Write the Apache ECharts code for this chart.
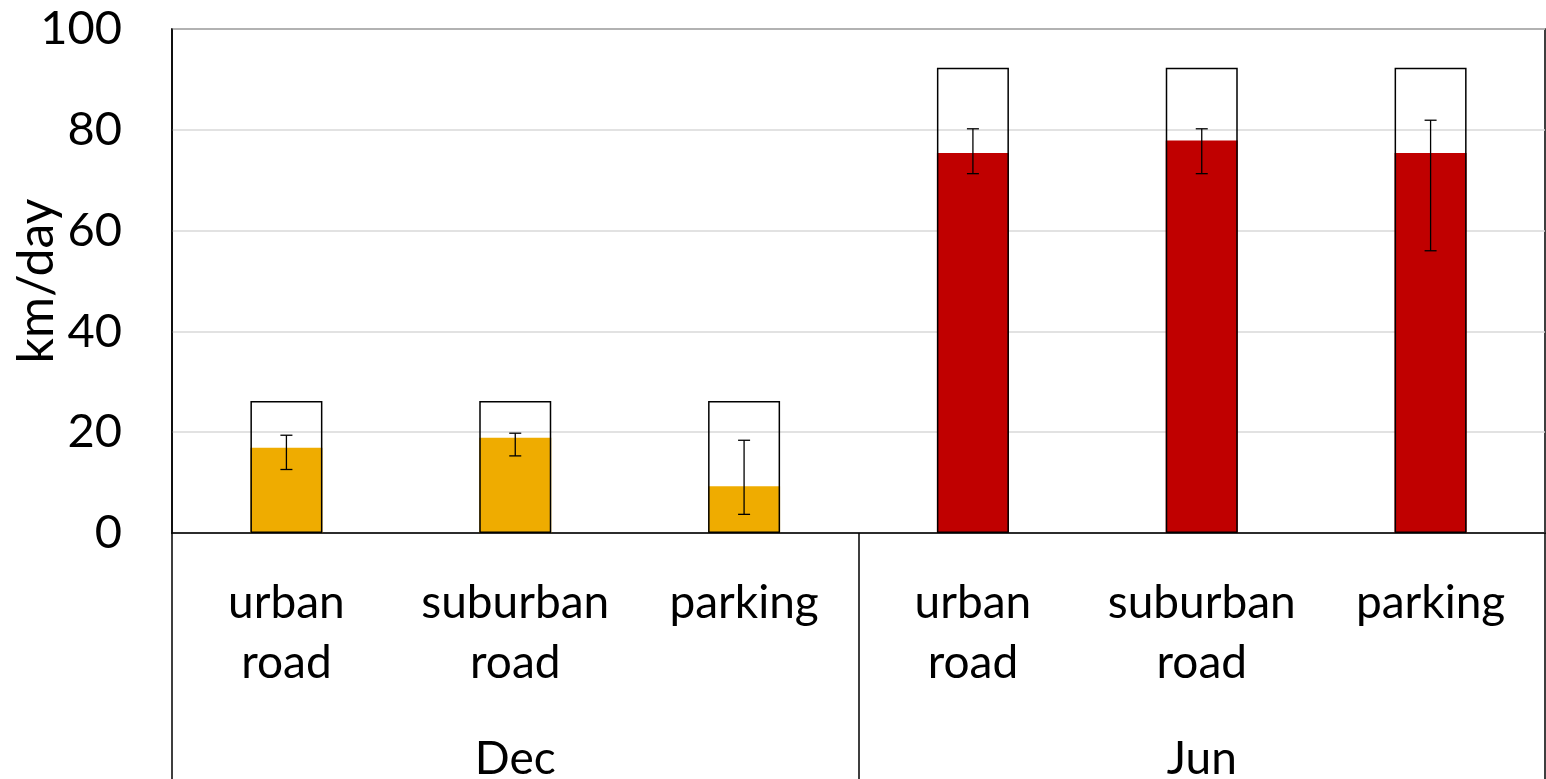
<!DOCTYPE html>
<html>
<head>
<meta charset="utf-8">
<script src="https://cdn.jsdelivr.net/npm/echarts@6/dist/echarts.min.js"></script>
<style>
html, body { margin: 0; padding: 0; background: #fff; }
#mychart { width: 1546px; height: 779px; }
</style>
</head>
<body>
<div id="mychart"></div>
<script>
// data
var categories = ['urban\nroad', 'suburban\nroad', 'parking', 'urban\nroad', 'suburban\nroad', 'parking'];
var groups = ['Dec', 'Jun'];
var totalValues = [26.2, 26.2, 26.2, 92.3, 92.3, 92.3];
var meanValues = [16.9, 18.9, 9.3, 75.4, 77.9, 75.4];
var errLow = [12.6, 15.3, 3.7, 71.3, 71.3, 56.0];
var errHigh = [19.4, 19.8, 18.4, 80.2, 80.2, 81.9];
var yTicks = [0, 20, 40, 60, 80, 100];

var FONT = 'Lato';
var groupColors = ['#EFAC00', '#C00000'];

var errData = [];
for (var i = 0; i < categories.length; i++) {
    errData.push([i, errLow[i], errHigh[i]]);
}

var dom = document.getElementById('mychart');
var myChart = echarts.init(dom);

var option = {
    animation: false,
    textStyle: { fontFamily: FONT },
    grid: {
        left: 172,
        right: 1,
        top: 29,
        bottom: 246,
        outerBoundsMode: 'none',
        containLabel: false,
        show: true,
        borderColor: '#000',
        borderWidth: 1.5
    },
    xAxis: [
        {
            type: 'category',
            data: categories,
            position: 'bottom',
            axisLine: { show: true, lineStyle: { color: '#000', width: 1.5 } },
            axisTick: { show: false },
            axisLabel: {
                interval: 0,
                color: '#000',
                fontFamily: FONT,
                fontSize: 46,
                lineHeight: 60,
                margin: 40
            }
        },
        {
            type: 'category',
            data: groups,
            position: 'bottom',
            gridIndex: 0,
            axisLine: { show: false },
            axisTick: { show: true, length: 250, lineStyle: { color: '#000', width: 1.5 } },
            axisLabel: {
                interval: 0,
                color: '#000',
                fontFamily: FONT,
                fontSize: 46,
                lineHeight: 46,
                margin: 203
            }
        }
    ],
    yAxis: {
        type: 'value',
        min: yTicks[0],
        max: yTicks[yTicks.length - 1],
        interval: 20,
        name: 'km/day',
        nameLocation: 'middle',
        nameGap: 110,
        nameMoveOverlap: false,
        nameTextStyle: { color: '#000', fontFamily: FONT, fontSize: 50 },
        axisLine: { show: true, lineStyle: { color: '#000', width: 1.5 } },
        axisTick: { show: false },
        axisLabel: { color: '#000', fontFamily: FONT, fontSize: 47, margin: 50 },
        splitLine: { lineStyle: { color: '#d9d9d9', width: 1.5 } }
    },
    series: [
        {
            name: 'mean',
            type: 'bar',
            xAxisIndex: 0,
            barWidth: 72,
            data: meanValues,
            itemStyle: {
                color: function (p) { return groupColors[p.dataIndex < 3 ? 0 : 1]; }
            }
        },
        {
            name: 'total',
            type: 'bar',
            xAxisIndex: 0,
            barWidth: 72,
            barGap: '-100%',
            data: totalValues,
            itemStyle: { color: 'transparent', borderColor: '#000', borderWidth: 1.5 }
        },
        {
            name: 'error',
            type: 'custom',
            xAxisIndex: 0,
            data: errData,
            z: 10,
            renderItem: function (params, api) {
                var lo = api.coord([api.value(0), api.value(1)]);
                var hi = api.coord([api.value(0), api.value(2)]);
                var w = 6;
                var style = { stroke: '#000', lineWidth: 1.3 };
                return {
                    type: 'group',
                    children: [
                        { type: 'line', shape: { x1: hi[0], y1: hi[1], x2: lo[0], y2: lo[1] }, style: style },
                        { type: 'line', shape: { x1: hi[0] - w, y1: hi[1], x2: hi[0] + w, y2: hi[1] }, style: style },
                        { type: 'line', shape: { x1: lo[0] - w, y1: lo[1], x2: lo[0] + w, y2: lo[1] }, style: style }
                    ]
                };
            }
        }
    ]
};

if (option && typeof option === 'object') {
    myChart.setOption(option);
}
</script>
</body>
</html>
